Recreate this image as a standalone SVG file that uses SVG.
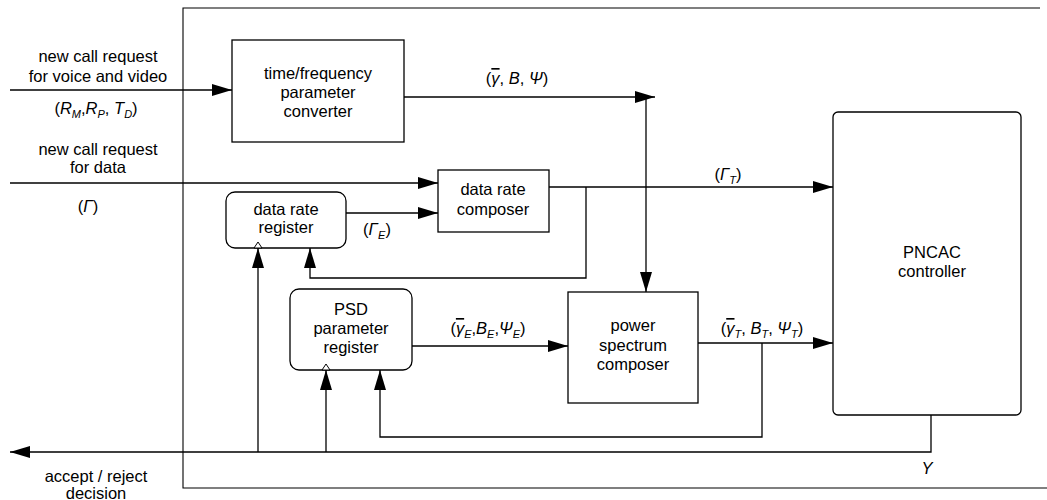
<svg xmlns="http://www.w3.org/2000/svg" width="1047" height="500" viewBox="0 0 1047 500">
<style>
text{font-family:"Liberation Sans",Arial,sans-serif;font-size:16.5px;fill:#000;text-anchor:middle}
.m{font-style:italic}
.o{font-style:italic;text-decoration:overline}
.s{font-size:11px;font-style:italic}
.box{fill:#fff;stroke:#000;stroke-width:1.3}
.ln{fill:none;stroke:#000;stroke-width:1.3}
.frame{fill:none;stroke:#000;stroke-width:1.1}
.tick{fill:#fff;stroke:#000;stroke-width:1}
</style>
<defs>
<marker id="ah" markerUnits="userSpaceOnUse" markerWidth="20" markerHeight="12" refX="20" refY="6" orient="auto">
<path d="M0,0 L20,6 L0,12 Z" fill="#000"/>
</marker>
</defs>
<g id="frame">
<path class="frame" d="M1040,8 H183 V488 H1047"/>
</g>
<g id="connectors">
<path class="ln" d="M10,90 H232" marker-end="url(#ah)"/>
<path class="ln" d="M10,183 H438" marker-end="url(#ah)"/>
<path class="ln" d="M404,97 H655" marker-end="url(#ah)"/>
<path class="ln" d="M646,97 V292" marker-end="url(#ah)"/>
<path class="ln" d="M549,187 H833" marker-end="url(#ah)"/>
<path class="ln" d="M586,187 V278 H310 V248" marker-end="url(#ah)"/>
<path class="ln" d="M346,213 H438" marker-end="url(#ah)"/>
<path class="ln" d="M412,346 H568" marker-end="url(#ah)"/>
<path class="ln" d="M698,343 H833" marker-end="url(#ah)"/>
<path class="ln" d="M762,343 V437 H380 V370" marker-end="url(#ah)"/>
<path class="ln" d="M931,415 V452 H10" marker-end="url(#ah)"/>
<path class="ln" d="M258,452 V248" marker-end="url(#ah)"/>
<path class="ln" d="M326,452 V370" marker-end="url(#ah)"/>
</g>
<g id="labels">
<text x="98" y="62">new call request</text>
<text x="98" y="82">for voice and video</text>
<text x="96" y="114">(<tspan class="m">R</tspan><tspan class="s" dy="4">M</tspan><tspan dy="-4">,</tspan><tspan class="m">R</tspan><tspan class="s" dy="4">P</tspan><tspan dy="-4">, </tspan><tspan class="m">T</tspan><tspan class="s" dy="4">D</tspan><tspan dy="-4">)</tspan></text>
<text x="98" y="155">new call request</text>
<text x="98" y="173">for data</text>
<text x="88" y="212">(<tspan class="m">Γ</tspan>)</text>
<text x="517" y="84">(<tspan class="o">γ</tspan>, <tspan class="m">B</tspan>, <tspan class="m">Ψ</tspan>)</text>
<text x="728" y="180">(<tspan class="m">Γ</tspan><tspan class="s" dy="4">T</tspan><tspan dy="-4">)</tspan></text>
<text x="377" y="235">(<tspan class="m">Γ</tspan><tspan class="s" dy="4">E</tspan><tspan dy="-4">)</tspan></text>
<text x="488" y="334">(<tspan class="o">γ</tspan><tspan class="s" dy="4">E</tspan><tspan dy="-4">,</tspan><tspan class="m">B</tspan><tspan class="s" dy="4">E</tspan><tspan dy="-4">,</tspan><tspan class="m">Ψ</tspan><tspan class="s" dy="4">E</tspan><tspan dy="-4">)</tspan></text>
<text x="762" y="334">(<tspan class="o">γ</tspan><tspan class="s" dy="4">T</tspan><tspan dy="-4">, </tspan><tspan class="m">B</tspan><tspan class="s" dy="4">T</tspan><tspan dy="-4">, </tspan><tspan class="m">Ψ</tspan><tspan class="s" dy="4">T</tspan><tspan dy="-4">)</tspan></text>
<text x="927" y="474" class="m">Y</text>
<text x="96" y="482">accept / reject</text>
<text x="96" y="499">decision</text>
</g>
<g id="tf-converter">
<rect class="box" x="232" y="40" width="172" height="102"/>
<text x="318" y="79">time/frequency</text>
<text x="318" y="98">parameter</text>
<text x="318" y="117">converter</text>
</g>
<g id="data-rate-composer">
<rect class="box" x="438" y="170" width="111" height="62"/>
<text x="493" y="195">data rate</text>
<text x="493" y="215">composer</text>
</g>
<g id="data-rate-register">
<rect class="box" x="226" y="192" width="120" height="56" rx="9"/>
<text x="286" y="215">data rate</text>
<text x="286" y="233">register</text>
<polygon class="tick" points="254,248 258,242 262,248"/>
</g>
<g id="psd-register">
<rect class="box" x="290" y="289" width="122" height="81" rx="9"/>
<text x="351" y="315">PSD</text>
<text x="351" y="334">parameter</text>
<text x="351" y="353">register</text>
<polygon class="tick" points="322,370 326,364 330,370"/>
</g>
<g id="power-spectrum-composer">
<rect class="box" x="568" y="292" width="130" height="111"/>
<text x="633" y="331">power</text>
<text x="633" y="351">spectrum</text>
<text x="633" y="370">composer</text>
</g>
<g id="pncac-controller">
<rect class="box" x="833" y="112" width="188" height="303" rx="5"/>
<text x="932" y="258">PNCAC</text>
<text x="932" y="277">controller</text>
</g>
</svg>
